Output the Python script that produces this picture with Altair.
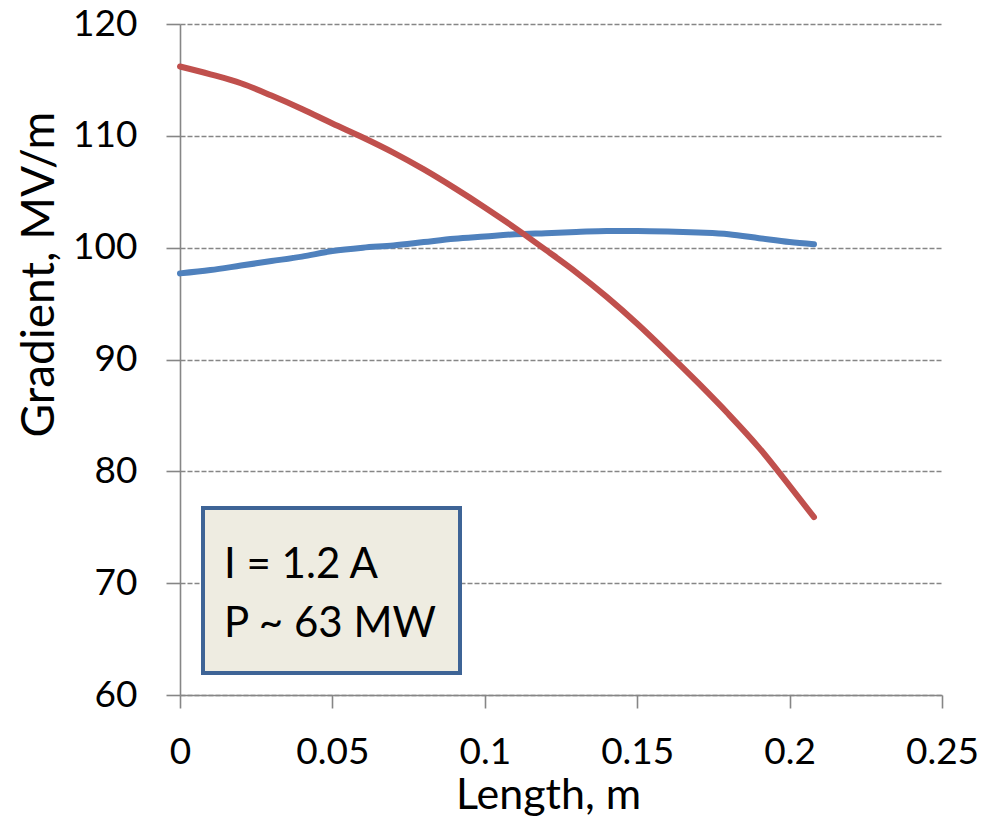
import altair as alt
import pandas as pd

# ---- data ----
length_m = [0.0, 0.01, 0.02, 0.03, 0.04, 0.05, 0.06, 0.07, 0.08, 0.09, 0.10,
            0.11, 0.12, 0.13, 0.14, 0.15, 0.16, 0.17, 0.18, 0.19, 0.20, 0.208]
gradient_red = [116.2, 115.5, 114.7, 113.6, 112.4, 111.1, 109.85, 108.5, 107.0,
                105.35, 103.6, 101.75, 99.8, 97.8, 95.6, 93.2, 90.6, 87.9, 85.1,
                82.1, 78.7, 75.9]
gradient_blue = [97.7, 98.0, 98.4, 98.8, 99.2, 99.7, 100.0, 100.2, 100.5, 100.8,
                 101.0, 101.2, 101.3, 101.4, 101.5, 101.5, 101.45, 101.35, 101.2,
                 100.85, 100.5, 100.3]
series_names = ["Blue", "Red"]
series_colors = ["#4F81BD", "#C0504D"]
x_ticks = [0, 0.05, 0.1, 0.15, 0.2, 0.25]
y_ticks = [60, 70, 80, 90, 100, 110, 120]
annotation_lines = ["I = 1.2 A", "P ~ 63 MW"]

rows = []
for x, b in zip(length_m, gradient_blue):
    rows.append({"Length": x, "Gradient": b, "Series": "Blue"})
for x, r in zip(length_m, gradient_red):
    rows.append({"Length": x, "Gradient": r, "Series": "Red"})
df = pd.DataFrame(rows)

FONT = "Lato"

lines = alt.Chart(df).mark_line(strokeWidth=6, interpolate="monotone", strokeCap="round").encode(
    x=alt.X("Length:Q",
            scale=alt.Scale(domain=[0, 0.25], nice=False, zero=False),
            axis=alt.Axis(values=x_ticks, format="~g", title="Length, m",
                          grid=False, tickSize=13, labelPadding=26,
                          titleX=368, titleY=113, titleBaseline="alphabetic",
                          titleAlign="center", labelFlush=False)),
    y=alt.Y("Gradient:Q",
            scale=alt.Scale(domain=[60, 120], nice=False, zero=False),
            axis=alt.Axis(values=y_ticks, title="Gradient, MV/m",
                          grid=True, gridDash=[5, 2], gridColor="#868686",
                          gridWidth=1.3, tickSize=14, labelPadding=29,
                          titleX=-127, titleY=250, titleBaseline="alphabetic",
                          titleAlign="center", titleAngle=270, titleFontSize=46)),
    color=alt.Color("Series:N", scale=alt.Scale(domain=series_names, range=series_colors),
                    legend=None),
    detail="Series:N",
)

box_data = pd.DataFrame({"k": [0]})
box = alt.Chart(box_data).mark_rect(fill="#EEECE1", stroke="#3E6496", strokeWidth=4).encode(
    x=alt.value(23), x2=alt.value(280), y=alt.value(484), y2=alt.value(649)
)

text1 = alt.Chart(pd.DataFrame({"label": [annotation_lines[0]]})).mark_text(
    align="left", baseline="alphabetic", fontSize=42, font=FONT, color="black"
).encode(text="label:N", x=alt.value(44), y=alt.value(554))
text2 = alt.Chart(pd.DataFrame({"label": [annotation_lines[1]]})).mark_text(
    align="left", baseline="alphabetic", fontSize=42, font=FONT, color="black"
).encode(text="label:N", x=alt.value(44), y=alt.value(613))

chart = alt.layer(lines, box, text1, text2).properties(
    width=762, height=671,
    autosize=alt.AutoSizeParams(type="none"),
    padding={"left": 180, "top": 24, "right": 44, "bottom": 124},
    background="white",
).configure_view(stroke=None).configure_axis(
    labelFont=FONT, titleFont=FONT, labelFontSize=37, titleFontSize=43,
    labelColor="black", titleColor="black", titleFontWeight="normal",
    domainColor="#868686", domainWidth=1.6, tickColor="#868686", tickWidth=1.6,
)

chart.save("out.html", embed_options={"renderer": "svg", "actions": False})
